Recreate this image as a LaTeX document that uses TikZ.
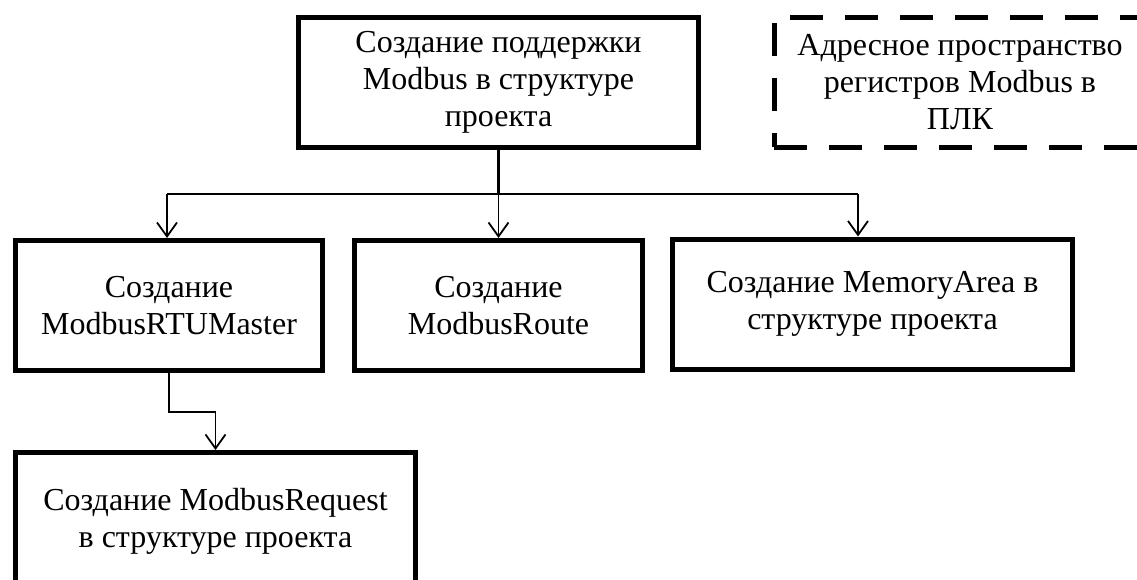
\documentclass[tikz,border=0pt]{standalone}
\usepackage{fontspec}
\setmainfont{Liberation Serif}
\usetikzlibrary{arrows.meta}
\begin{document}
\begin{tikzpicture}[x=1pt, y=-1pt,
  block/.style={draw, line width=5pt, align=center, inner sep=0pt,
    minimum height=130pt, font=\fontsize{32}{37}\selectfont},
  dashblock/.style={block, dash pattern=on 33pt off 22pt},
  conn/.style={line width=1.8pt},
  arr/.style={conn, -{Straight Barb[length=14pt, width=20pt, line width=1.8pt]}}]
  \useasboundingbox (0,0) rectangle (1137,580);
  \clip (0,0) rectangle (1137,580);

  % Top level
  \node[block, minimum width=400pt] (top) at (498.5,82.5)
    {Создание поддержки\\Modbus в структуре\\проекта};
  \node[dashblock, minimum width=372pt] (plc) at (960,82.5)
    {Адресное пространство\\регистров Modbus в\\ПЛК};

  % Second level
  \node[block, minimum width=307pt] (rtu) at (169,305.5) {Создание\\ModbusRTUMaster};
  \node[block, minimum width=288pt] (route) at (498.5,305.5) {Создание\\ModbusRoute};
  \node[block, minimum width=400pt] (area) at (872.5,304) {Создание MemoryArea в\\структуре проекта};

  % Third level
  \node[block, minimum width=400pt, minimum height=137pt] (req) at (215.5,521)
    {Создание ModbusRequest\\в структуре проекта};

  % Branching
  \coordinate (split) at (498.5,194);
  \coordinate (left) at (167,194);
  \coordinate (right) at (858,194);
  \draw[conn, line width=3pt] (top.south) -- (split);
  \draw[conn] (left) -- (right);
  \draw[arr] (left) -- (left |- rtu.north);
  \draw[arr] (split) -- (route.north);
  \draw[arr] (right) -- (right |- area.north);
  \draw[arr] (rtu.south) -- ++(0,39) -| (req.north);
\end{tikzpicture}
\end{document}
